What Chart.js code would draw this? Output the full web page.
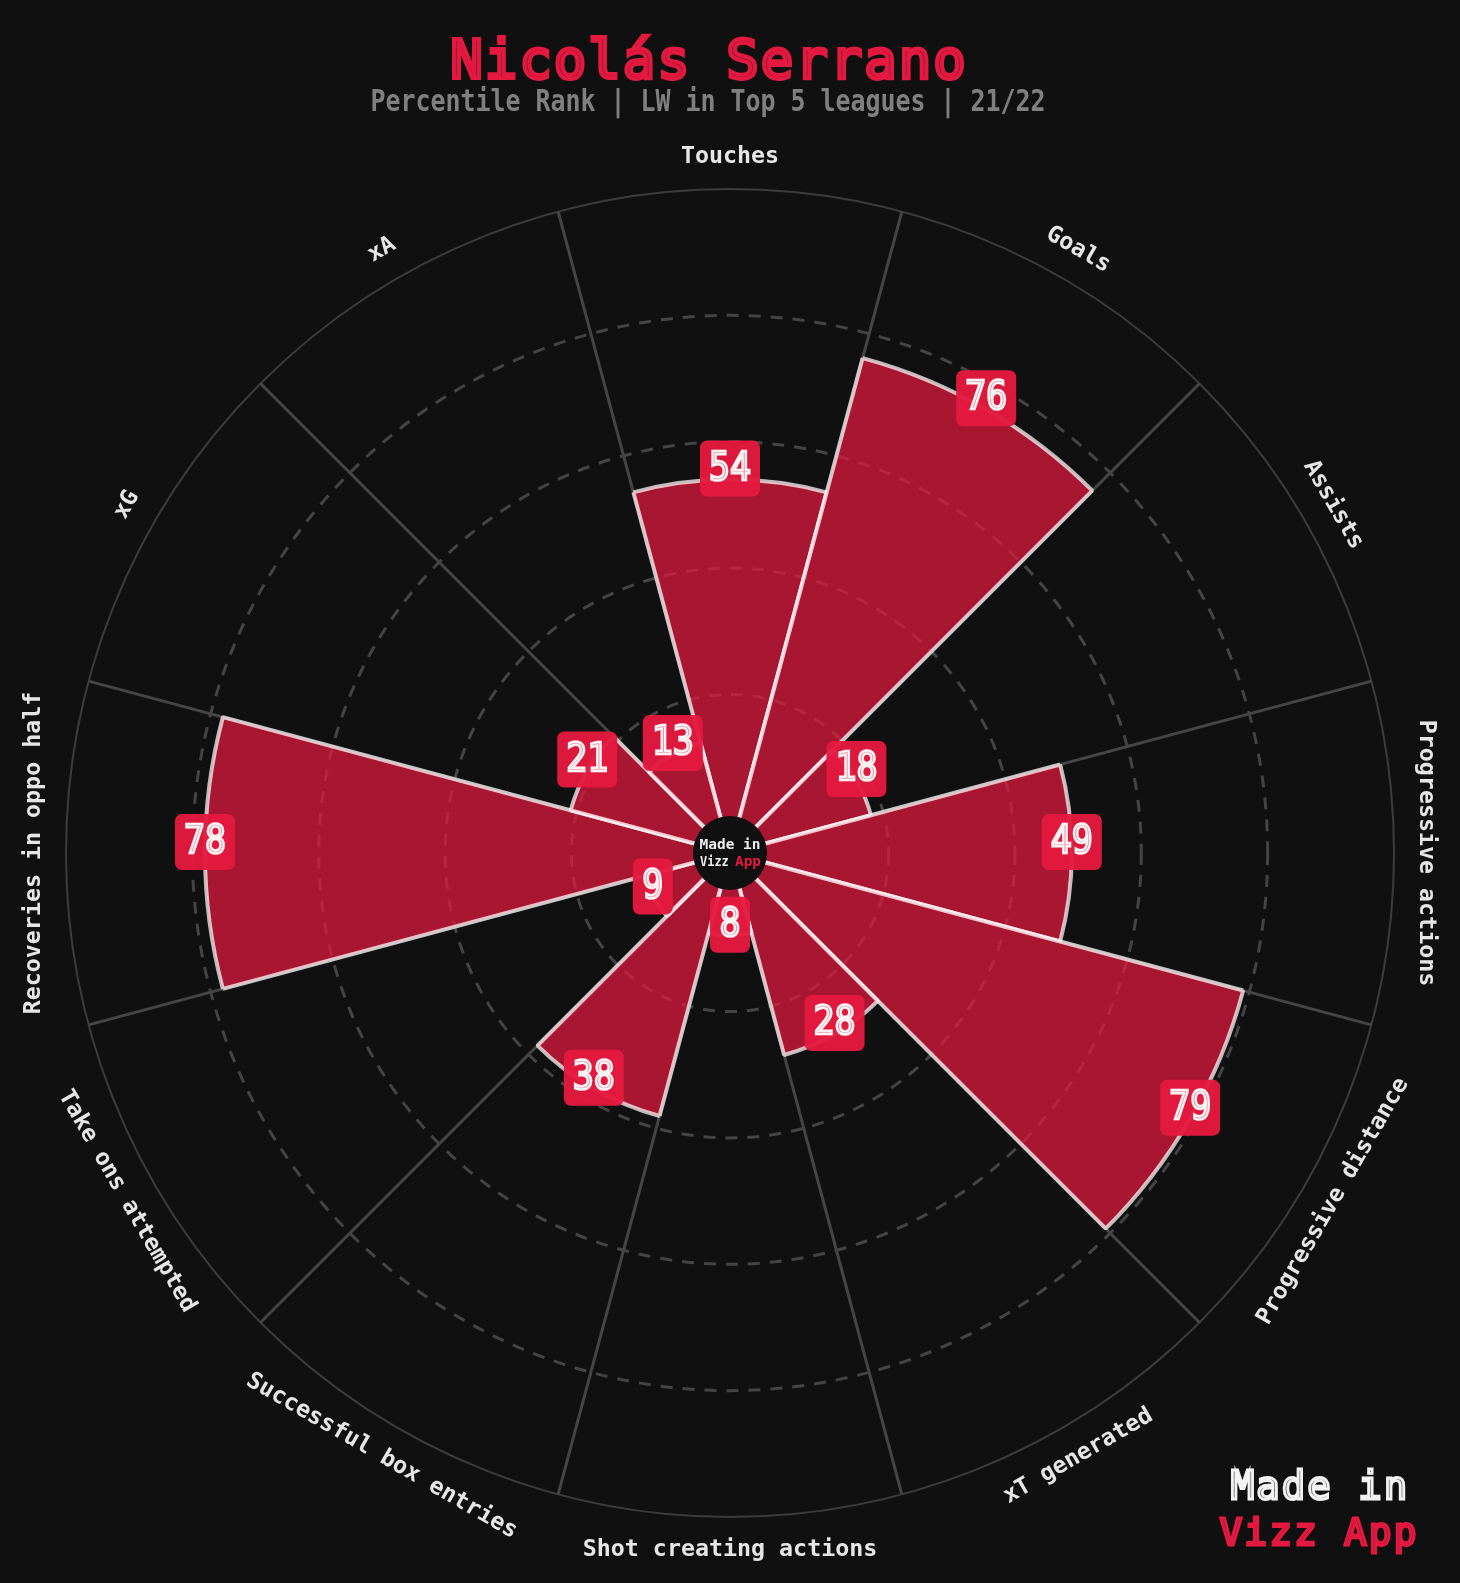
<!DOCTYPE html>
<html>
<head>
<meta charset="utf-8">
<title>Nicolás Serrano</title>
<script src="https://cdn.jsdelivr.net/npm/chart.js@4/dist/chart.umd.min.js"></script>
<style>
	html, body { margin: 0; padding: 0; background: #101010; }
	canvas { display: block; }
</style>
</head>
<body>
<canvas id="pizza" width="1460" height="1583"></canvas>
<script>
const categories = ["Touches", "Goals", "Assists", "Progressive actions", "Progressive distance", "xT generated",
	"Shot creating actions", "Successful box entries", "Take ons attempted", "Recoveries in oppo half", "xG", "xA"];
const percentiles = [54, 76, 18, 49, 79, 28, 8, 38, 9, 78, 21, 13];
const ring_values = [0, 20, 40, 60, 80, 100];

const player_name = "Nicolás Serrano";
const subtitle = "Percentile Rank | LW in Top 5 leagues | 21/22";

const BG = '#101010';
const RED = '#e5193f';
const FONT = '"DejaVu Sans Mono"';

const putText = function(ctx, text, x, y, size, color, width) {
	ctx.font = 'bold ' + size + 'px ' + FONT;
	ctx.fillStyle = color;
	ctx.fillText(text, x, y, width);
}

// the original face has an inline: thin glyph for the core, stroke for the edges
const inlineText = function(ctx, text, x, y, size, color, core, stroke, width) {
	ctx.font = size + 'px ' + FONT;
	ctx.lineJoin = 'miter';
	ctx.fillStyle = core;
	ctx.fillText(text, x, y, width);
	ctx.strokeStyle = color;
	ctx.lineWidth = stroke;
	ctx.strokeText(text, x, y, width);
}

const pizzaText = {
	id: 'pizzaText',
	afterDatasetsDraw(chart) {
		const ctx = chart.ctx;
		const r = chart.scales.r;
		ctx.save();
		ctx.textAlign = 'center';
		ctx.textBaseline = 'alphabetic';

		ctx.letterSpacing = '2px';
		inlineText(ctx, player_name, 709, 78, 54, RED, '#a8183a', 3.8);
		ctx.letterSpacing = '0px';
		putText(ctx, subtitle, 708, 111, 30, '#808080', 675);

		// category names round the outside, flipped on the bottom half
		ctx.textBaseline = 'middle';
		categories.forEach(function(name, i) {
			const p = r.getPointPosition(i + 0.5, r.drawingArea + 32.5);
			let deg = i * 30;
			if (deg > 90 && deg < 270) deg -= 180;
			ctx.save();
			ctx.translate(p.x, p.y);
			ctx.rotate(deg * Math.PI / 180);
			putText(ctx, name, 0, 0, 23.3, '#e6e6e6');
			ctx.restore();
		});

		// value boxes sit just above the end of each bar
		percentiles.forEach(function(v, i) {
			const p = r.getPointPositionForValue(i + 0.5, v);
			const txt = String(v);
			const w = txt.length > 1 ? 60 : 40;
			const y = p.y - 11;
			ctx.fillStyle = 'rgba(229, 25, 63, 0.96)';
			ctx.beginPath();
			ctx.roundRect(p.x - w / 2, y - 28, w, 56, 7);
			ctx.fill();
			inlineText(ctx, txt, p.x, y + 1, 39, '#f8f4f4', '#ef8fa0', 2.6, 21 * txt.length);
		});

		// hole in the middle
		ctx.fillStyle = BG;
		ctx.beginPath();
		ctx.arc(r.xCenter, r.yCenter, 37, 0, Math.PI * 2);
		ctx.fill();
		putText(ctx, 'Made in', r.xCenter, r.yCenter - 8, 14.5, '#eeeeee', 61);
		ctx.textAlign = 'left';
		putText(ctx, 'Vizz ', r.xCenter - 30, r.yCenter + 9, 14.5, '#eeeeee', 36);
		putText(ctx, 'App', r.xCenter + 5, r.yCenter + 9, 14.5, RED, 26);

		// watermark
		ctx.textAlign = 'center';
		ctx.textBaseline = 'middle';
		ctx.letterSpacing = '2px';
		inlineText(ctx, 'Made in', 1320, 1489, 39, '#f2f2f2', '#555555', 2.8);
		inlineText(ctx, 'Vizz App', 1319, 1535, 38, RED, '#a8183a', 2.8);
		ctx.letterSpacing = '0px';
		ctx.restore();
	}
};

new Chart(document.getElementById('pizza'), {
	type: 'polarArea',
	data: {
		labels: categories,
		datasets: [{
			data: percentiles,
			backgroundColor: 'rgba(229, 25, 63, 0.72)',
			borderColor: 'rgba(255, 255, 255, 0.72)',
			borderWidth: 4
		}]
	},
	options: {
		responsive: false,
		animation: false,
		layout: { padding: { top: 189, bottom: 66, left: 66, right: 66 } },
		plugins: {
			legend: { display: false },
			tooltip: { enabled: false }
		},
		scales: {
			r: {
				min: -5.1,
				max: 100,
				startAngle: -15,
				afterBuildTicks(scale) {
					scale.ticks = ring_values.map(v => ({ value: v }));
				},
				ticks: { display: false },
				pointLabels: { display: false },
				angleLines: { display: true, color: '#454545', lineWidth: 3 },
				grid: {
					circular: true,
					color: ctx => ctx.tick.value === 100 ? '#3c3c3c' : '#444444',
					lineWidth: ctx => ctx.tick.value === 100 ? 2 : 3
				},
				border: {
					dash: ctx => ctx.tick.value === 100 ? [] : [12, 10]
				}
			}
		}
	},
	plugins: [pizzaText]
});
</script>
</body>
</html>
